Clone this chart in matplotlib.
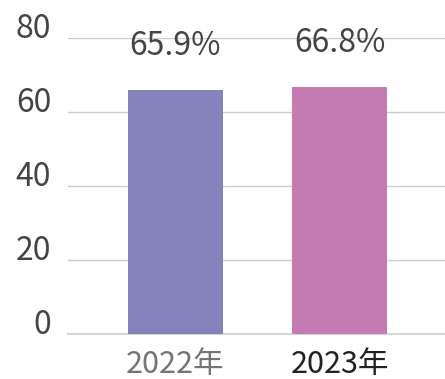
import matplotlib
matplotlib.use("Agg")
import matplotlib.pyplot as plt

years = ["2022年", "2023年"]
rates = [65.9, 66.8]
bar_colors = ["#8482ba", "#c47bb2"]
label_colors = ["#757575", "#222222"]
yticks = [0, 20, 40, 60, 80]

plt.rcParams["font.family"] = ["Noto Sans CJK JP", "DejaVu Sans"]

fig = plt.figure(figsize=(4.45, 3.79), dpi=100)
ax = fig.add_axes([68 / 445, (379 - 334) / 379, (445 - 68) / 445, (334 - 38) / 379])

x = list(range(len(years)))
bars = ax.bar(x, rates, width=0.58, color=bar_colors, zorder=3)
for b, v in zip(bars, rates):
    ax.annotate(f"{v}%", (b.get_x() + b.get_width() / 2, v), xytext=(0, 20),
                textcoords="offset points", ha="center", va="bottom",
                fontsize=23, color="#444444", annotation_clip=False)

ax.set_xlim(-0.655, 1.643)
ax.set_ylim(0, 80)
ax.set_yticks(yticks)
ax.yaxis.grid(True, color="#cccccc", lw=1.0, zorder=0)
ax.axhline(0, color="#d6d6d6", lw=1.5, zorder=2, clip_on=False)
ax.tick_params(axis="y", length=0, pad=12, labelsize=23, labelcolor="#444444")
for lbl in ax.get_yticklabels():
    lbl.set_verticalalignment("baseline")
ax.set_xticks(x)
ax.set_xticklabels(years, fontsize=22)
for lbl, c in zip(ax.get_xticklabels(), label_colors):
    lbl.set_color(c)
ax.tick_params(axis="x", length=0, pad=11)
for s in ax.spines.values():
    s.set_visible(False)

fig.savefig("out.png", dpi=100)
